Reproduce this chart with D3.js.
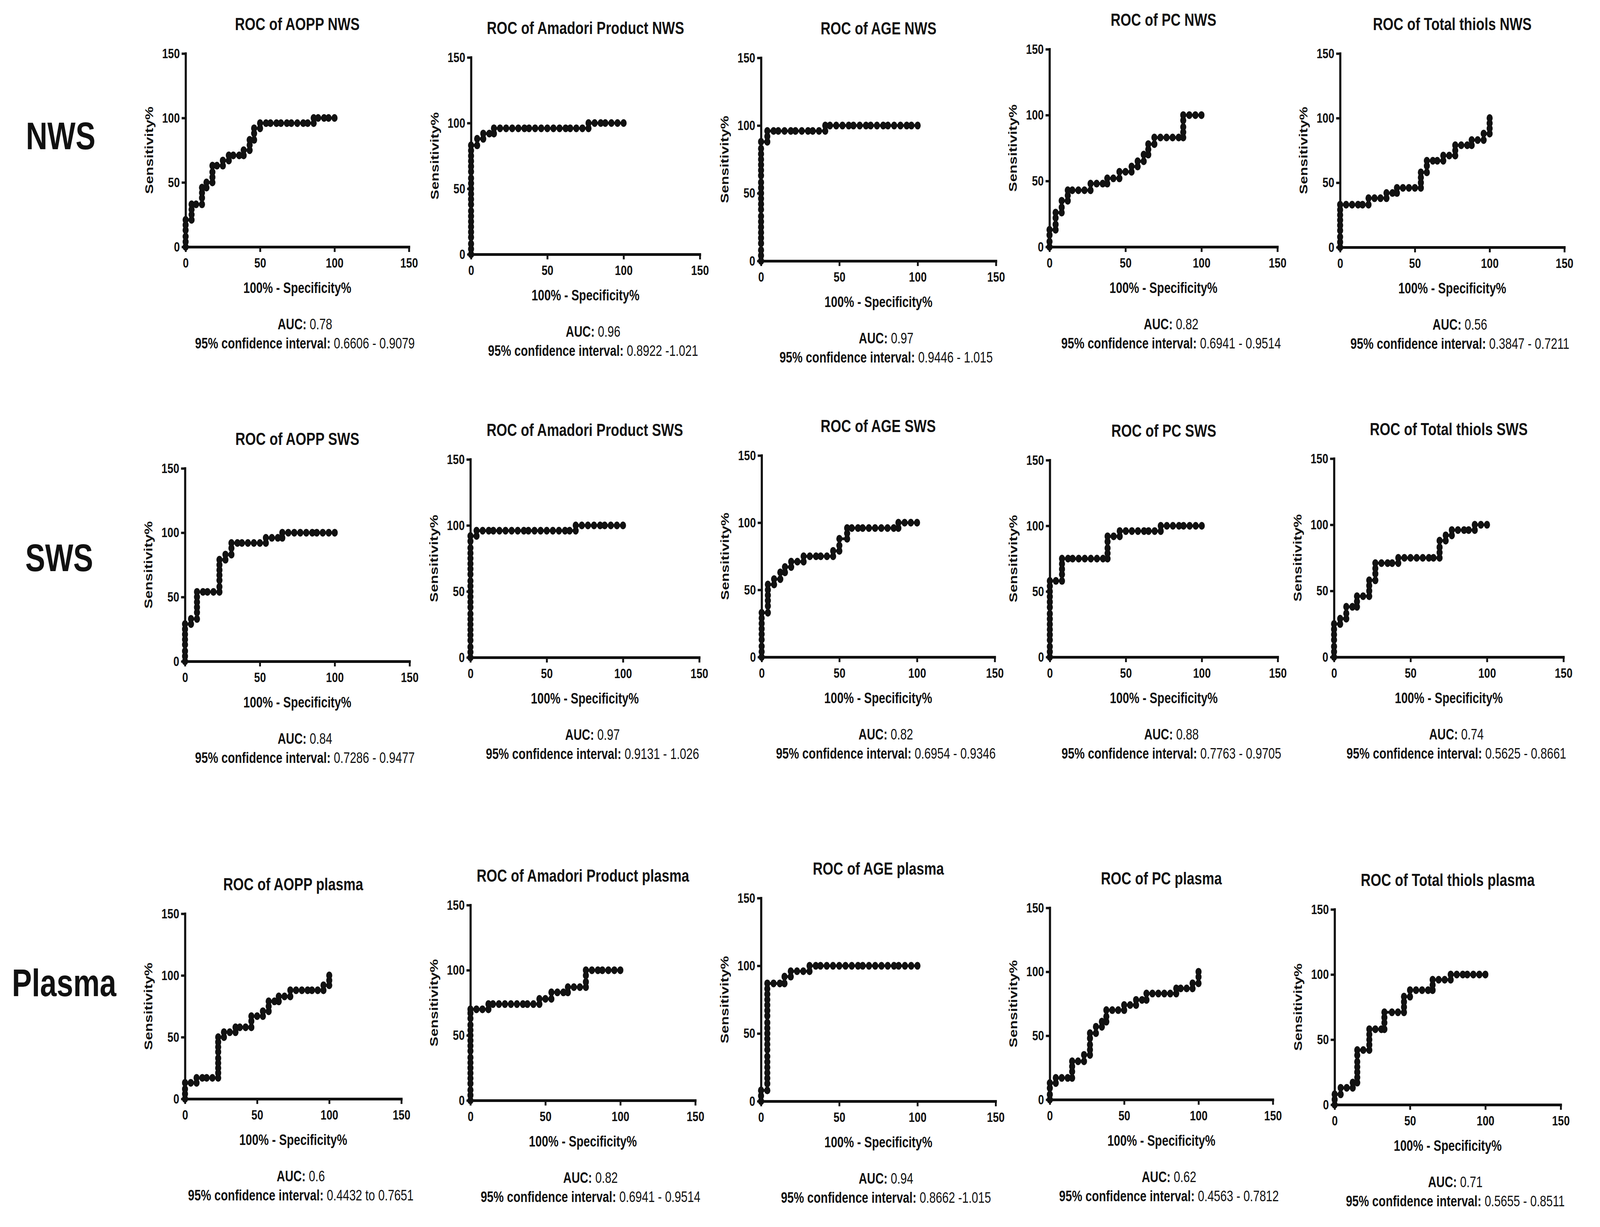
<!DOCTYPE html>
<html>
<head>
<meta charset="utf-8">
<script src="https://cdn.jsdelivr.net/npm/d3@7"></script>
<style>
  html, body, #chart { margin: 0; padding: 0; width: 100%; height: 100%; overflow: hidden; background: #fff; }
  svg { display: block; font-family: 'Liberation Sans', Arial, Helvetica, sans-serif; }
</style>
</head>
<body>
<div id="chart"></div>
<script>
// ---- data ----
const rowLabels = ['NWS', 'SWS', 'Plasma'];

const panelTitles = [
  'ROC of AOPP NWS', 'ROC of Amadori Product NWS', 'ROC of AGE NWS', 'ROC of PC NWS', 'ROC of Total thiols NWS',
  'ROC of AOPP SWS', 'ROC of Amadori Product SWS', 'ROC of AGE SWS', 'ROC of PC SWS', 'ROC of Total thiols SWS',
  'ROC of AOPP plasma', 'ROC of Amadori Product plasma', 'ROC of AGE plasma', 'ROC of PC plasma', 'ROC of Total thiols plasma',
];

const aucValues = [
  '0.78', '0.96', '0.97', '0.82', '0.56',
  '0.84', '0.97', '0.82', '0.88', '0.74',
  '0.6', '0.82', '0.94', '0.62', '0.71',
];

const ciValues = [
  '0.6606 - 0.9079', '0.8922 -1.021', '0.9446 - 1.015', '0.6941 - 0.9514', '0.3847 - 0.7211',
  '0.7286 - 0.9477', '0.9131 - 1.026', '0.6954 - 0.9346', '0.7763 - 0.9705', '0.5625 - 0.8661',
  '0.4432 to 0.7651', '0.6941 - 0.9514', '0.8662 -1.015', '0.4563 - 0.7812', '0.5655 - 0.8511',
];

const axisTicks = [0, 50, 100, 150];

// ROC points as [100% - Specificity%, Sensitivity%]
const rocAoppNws = [[0,0],[0,4],[0,8],[0,13],[0,17],[0,21],[4,21],[4,25],[4,29],[4,33],[7,33],[11,33],[11,38],[11,42],[11,46],[14,46],[14,50],[18,50],[18,54],[18,58],[18,63],[21,63],[25,63],[25,67],[29,67],[29,71],[32,71],[36,71],[39,71],[39,75],[43,75],[43,79],[43,83],[46,83],[46,88],[46,92],[50,92],[50,96],[54,96],[57,96],[61,96],[64,96],[68,96],[71,96],[75,96],[79,96],[82,96],[86,96],[86,100],[89,100],[93,100],[96,100],[100,100]];
const rocAmadoriNws = [[0,0],[0,4],[0,8],[0,13],[0,17],[0,21],[0,25],[0,29],[0,33],[0,38],[0,42],[0,46],[0,50],[0,54],[0,58],[0,63],[0,67],[0,71],[0,75],[0,79],[0,83],[4,83],[4,88],[8,88],[8,92],[12,92],[15,92],[15,96],[19,96],[23,96],[27,96],[31,96],[35,96],[38,96],[42,96],[46,96],[50,96],[54,96],[58,96],[62,96],[65,96],[69,96],[73,96],[77,96],[77,100],[81,100],[85,100],[88,100],[92,100],[96,100],[100,100]];
const rocAgeNws = [[0,0],[0,4],[0,8],[0,13],[0,17],[0,21],[0,25],[0,29],[0,33],[0,38],[0,42],[0,46],[0,50],[0,54],[0,58],[0,63],[0,67],[0,71],[0,75],[0,79],[0,83],[0,88],[4,88],[4,92],[4,96],[8,96],[11,96],[15,96],[19,96],[22,96],[26,96],[30,96],[33,96],[37,96],[41,96],[41,100],[44,100],[48,100],[52,100],[56,100],[59,100],[63,100],[67,100],[70,100],[74,100],[78,100],[81,100],[85,100],[89,100],[93,100],[96,100],[100,100]];
const rocPcNws = [[0,0],[0,4],[0,9],[0,13],[4,13],[4,17],[4,22],[4,26],[8,26],[8,30],[8,35],[12,35],[12,39],[12,43],[15,43],[19,43],[23,43],[27,43],[27,48],[31,48],[35,48],[38,48],[38,52],[42,52],[46,52],[46,57],[50,57],[54,57],[54,61],[58,61],[58,65],[62,65],[62,70],[65,70],[65,74],[65,78],[69,78],[69,83],[73,83],[77,83],[81,83],[85,83],[88,83],[88,87],[88,91],[88,96],[88,100],[92,100],[96,100],[100,100]];
const rocThiolsNws = [[0,0],[0,4],[0,8],[0,13],[0,17],[0,21],[0,25],[0,29],[0,33],[4,33],[8,33],[12,33],[15,33],[19,33],[19,38],[23,38],[27,38],[31,38],[31,42],[35,42],[38,42],[38,46],[42,46],[46,46],[50,46],[54,46],[54,50],[54,54],[54,58],[58,58],[58,63],[58,67],[62,67],[65,67],[69,67],[69,71],[73,71],[77,71],[77,75],[77,79],[81,79],[85,79],[88,79],[88,83],[92,83],[96,83],[96,88],[100,88],[100,92],[100,96],[100,100]];

const rocAoppSws = [[0,0],[0,4],[0,8],[0,13],[0,17],[0,21],[0,25],[0,29],[4,29],[4,33],[8,33],[8,38],[8,42],[8,46],[8,50],[8,54],[12,54],[15,54],[19,54],[23,54],[23,58],[23,63],[23,67],[23,71],[23,75],[23,79],[27,79],[27,83],[31,83],[31,88],[31,92],[35,92],[38,92],[42,92],[46,92],[50,92],[54,92],[54,96],[58,96],[62,96],[65,96],[65,100],[69,100],[73,100],[77,100],[81,100],[85,100],[88,100],[92,100],[96,100],[100,100]];
const rocAmadoriSws = [[0,0],[0,4],[0,8],[0,13],[0,17],[0,21],[0,25],[0,29],[0,33],[0,38],[0,42],[0,46],[0,50],[0,54],[0,58],[0,63],[0,67],[0,71],[0,75],[0,79],[0,83],[0,88],[0,92],[4,92],[4,96],[8,96],[12,96],[15,96],[19,96],[23,96],[27,96],[31,96],[35,96],[38,96],[42,96],[46,96],[50,96],[54,96],[58,96],[62,96],[65,96],[69,96],[69,100],[73,100],[77,100],[81,100],[85,100],[88,100],[92,100],[96,100],[100,100]];
const rocAgeSws = [[0,0],[0,4],[0,8],[0,13],[0,17],[0,21],[0,25],[0,29],[0,33],[4,33],[4,38],[4,42],[4,46],[4,50],[4,54],[8,54],[8,58],[12,58],[12,63],[15,63],[15,67],[19,67],[19,71],[23,71],[27,71],[27,75],[31,75],[35,75],[38,75],[42,75],[46,75],[46,79],[50,79],[50,83],[50,88],[55,88],[55,92],[55,96],[58,96],[62,96],[65,96],[69,96],[73,96],[77,96],[81,96],[85,96],[88,96],[88,100],[92,100],[96,100],[100,100]];
const rocPcSws = [[0,0],[0,4],[0,8],[0,13],[0,17],[0,21],[0,25],[0,29],[0,33],[0,38],[0,42],[0,46],[0,50],[0,54],[0,58],[4,58],[8,58],[8,63],[8,67],[8,71],[8,75],[12,75],[15,75],[19,75],[23,75],[27,75],[31,75],[35,75],[38,75],[38,79],[38,83],[38,88],[38,92],[42,92],[46,92],[46,96],[50,96],[54,96],[58,96],[62,96],[65,96],[69,96],[73,96],[73,100],[77,100],[81,100],[85,100],[88,100],[92,100],[96,100],[100,100]];
const rocThiolsSws = [[0,0],[0,4],[0,8],[0,13],[0,17],[0,21],[0,25],[4,25],[4,29],[8,29],[8,33],[8,38],[12,38],[15,38],[15,42],[15,46],[19,46],[23,46],[23,50],[23,54],[23,58],[27,58],[27,63],[27,67],[27,71],[31,71],[35,71],[38,71],[42,71],[42,75],[46,75],[50,75],[54,75],[58,75],[62,75],[65,75],[69,75],[69,79],[69,83],[69,88],[73,88],[73,92],[77,92],[77,96],[81,96],[85,96],[88,96],[92,96],[92,100],[96,100],[100,100]];

const rocAoppPlasma = [[0,0],[0,4],[0,8],[0,13],[4,13],[8,13],[8,17],[12,17],[15,17],[19,17],[23,17],[23,21],[23,25],[23,29],[23,33],[23,38],[23,42],[23,46],[23,50],[27,50],[27,54],[31,54],[35,54],[35,58],[38,58],[42,58],[46,58],[46,63],[46,67],[50,67],[54,67],[54,71],[58,71],[58,75],[58,79],[62,79],[65,79],[65,83],[69,83],[73,83],[73,88],[77,88],[81,88],[85,88],[88,88],[92,88],[96,88],[96,92],[100,92],[100,96],[100,100]];
const rocAmadoriPlasma = [[0,0],[0,4],[0,8],[0,13],[0,17],[0,21],[0,25],[0,29],[0,33],[0,38],[0,42],[0,46],[0,50],[0,54],[0,58],[0,63],[0,67],[0,70],[4,70],[8,70],[12,70],[12,74],[15,74],[19,74],[23,74],[27,74],[31,74],[35,74],[38,74],[42,74],[46,74],[46,78],[50,78],[54,78],[54,83],[58,83],[62,83],[65,83],[65,87],[69,87],[73,87],[77,87],[77,91],[77,96],[77,100],[81,100],[85,100],[88,100],[92,100],[96,100],[100,100]];
const rocAgePlasma = [[0,0],[0,4],[0,8],[4,8],[4,13],[4,17],[4,21],[4,25],[4,29],[4,33],[4,38],[4,42],[4,46],[4,50],[4,54],[4,58],[4,63],[4,67],[4,71],[4,75],[4,79],[4,83],[4,87],[8,87],[12,87],[15,87],[15,92],[19,92],[19,96],[23,96],[27,96],[31,96],[31,100],[35,100],[38,100],[42,100],[46,100],[50,100],[54,100],[58,100],[62,100],[65,100],[69,100],[73,100],[77,100],[81,100],[85,100],[88,100],[92,100],[96,100],[100,100]];
const rocPcPlasma = [[0,0],[0,4],[0,9],[0,13],[4,13],[4,17],[8,17],[12,17],[15,17],[15,22],[15,26],[15,30],[19,30],[23,30],[23,35],[27,35],[27,39],[27,43],[27,48],[27,52],[31,52],[31,57],[35,57],[35,61],[38,61],[38,65],[38,70],[42,70],[46,70],[50,70],[50,74],[54,74],[58,74],[58,78],[62,78],[65,78],[65,83],[69,83],[73,83],[77,83],[81,83],[85,83],[85,87],[88,87],[92,87],[96,87],[96,91],[100,91],[100,96],[100,100]];
const rocThiolsPlasma = [[0,0],[0,4],[0,8],[4,8],[4,13],[8,13],[12,13],[12,17],[15,17],[15,21],[15,25],[15,29],[15,33],[15,38],[15,42],[19,42],[23,42],[23,46],[23,50],[23,54],[23,58],[27,58],[31,58],[33,58],[33,63],[33,67],[33,71],[38,71],[42,71],[46,71],[46,75],[46,79],[46,83],[50,83],[50,88],[54,88],[58,88],[62,88],[65,88],[65,92],[65,96],[69,96],[73,96],[77,96],[77,100],[81,100],[85,100],[88,100],[92,100],[96,100],[100,100]];

const rocCurves = [
  rocAoppNws, rocAmadoriNws, rocAgeNws, rocPcNws, rocThiolsNws,
  rocAoppSws, rocAmadoriSws, rocAgeSws, rocPcSws, rocThiolsSws,
  rocAoppPlasma, rocAmadoriPlasma, rocAgePlasma, rocPcPlasma, rocThiolsPlasma,
];

// ---- layout (pixels): [x of 0, x of 150, y of 150, y of 0] ----
const panelBoxes = [
  [610, 1344, 137, 632], [1548, 2300, 147, 651], [2501, 3273, 148, 668], [3449, 4198, 126, 632], [4404, 5141, 137, 633],
  [608, 1346, 1199, 1693], [1546, 2298, 1176, 1683], [2503, 3269, 1166, 1682], [3450, 4199, 1178, 1682], [4384, 5138, 1174, 1682],
  [608, 1319, 2339, 2813], [1546, 2285, 2317, 2817], [2501, 3272, 2299, 2819], [3450, 4183, 2324, 2815], [4386, 5129, 2328, 2828],
];
const rowLabelPos = [[85, 382], [83, 1462], [39, 2550]];

const width = 5258;
const height = 3141;
const ink = '#111';

// the figure fills the whole window
const svg = d3.select('#chart')
  .append('svg')
  .attr('width', '100%')
  .attr('height', '100%')
  .attr('viewBox', `0 0 ${width} ${height}`)
  .attr('preserveAspectRatio', 'none');

svg.append('rect').attr('width', width).attr('height', height).attr('fill', '#fff');

// big row labels
svg.selectAll('text.row-label')
  .data(rowLabels)
  .enter()
  .append('text')
  .attr('class', 'row-label')
  .attr('x', (d, i) => rowLabelPos[i][0])
  .attr('y', (d, i) => rowLabelPos[i][1])
  .attr('font-size', 98)
  .attr('font-weight', 'bold')
  .attr('fill', ink)
  .text((d) => d);

const styleAxis = (g) => {
  g.attr('font-size', null).attr('font-family', null);
  g.select('.domain').attr('stroke', ink).attr('stroke-width', 7).attr('stroke-linecap', 'square');
  g.selectAll('.tick line').attr('stroke', ink).attr('stroke-width', 6);
  g.selectAll('.tick text')
    .attr('fill', ink)
    .attr('font-size', 35)
    .attr('font-weight', 'bold');
};

const drawRoc = (box, points, title, auc, ci) => {
  const [x0, x1, yTop, yBottom] = box;
  const x = d3.scaleLinear().domain([0, 150]).range([x0, x1]);
  const y = d3.scaleLinear().domain([0, 150]).range([yBottom, yTop]);
  const cx = (x0 + x1) / 2;
  const g = svg.append('g');

  // axes
  g.append('g')
    .attr('transform', `translate(0,${yBottom})`)
    .call(d3.axisBottom(x).tickValues(axisTicks).tickSize(13).tickSizeOuter(0).tickPadding(15))
    .call(styleAxis);

  g.append('g')
    .attr('transform', `translate(${x0},0)`)
    .call(d3.axisLeft(y).tickValues(axisTicks).tickSize(13).tickSizeOuter(0).tickPadding(6))
    .call(styleAxis);

  // curve + dots
  const line = d3.line().x((d) => x(d[0])).y((d) => y(d[1]));
  g.append('path')
    .datum(points)
    .attr('d', line)
    .attr('fill', 'none')
    .attr('stroke', ink)
    .attr('stroke-width', 7)
    .attr('stroke-linejoin', 'round');

  g.selectAll('circle')
    .data(points)
    .enter()
    .append('circle')
    .attr('cx', (d) => x(d[0]))
    .attr('cy', (d) => y(d[1]))
    .attr('r', 10)
    .attr('fill', ink);

  // texts
  g.append('text')
    .attr('x', cx)
    .attr('y', yTop - 60)
    .attr('text-anchor', 'middle')
    .attr('font-size', 45)
    .attr('font-weight', 'bold')
    .attr('fill', ink)
    .text(title);

  g.append('text')
    .attr('x', cx)
    .attr('y', yBottom + 118)
    .attr('text-anchor', 'middle')
    .attr('font-size', 38)
    .attr('font-weight', 'bold')
    .attr('fill', ink)
    .text('100% - Specificity%');

  g.append('text')
    .attr('transform', `translate(${x0 - 107},${(yTop + yBottom) / 2}) rotate(-90)`)
    .attr('text-anchor', 'middle')
    .attr('font-size', 38)
    .attr('font-weight', 'bold')
    .attr('fill', ink)
    .text('Sensitivity%');

  const aucText = g.append('text')
    .attr('x', cx + 25)
    .attr('y', yBottom + 211)
    .attr('text-anchor', 'middle')
    .attr('font-size', 38)
    .attr('fill', ink);
  aucText.append('tspan').attr('font-weight', 'bold').text('AUC:');
  aucText.append('tspan').text(` ${auc}`);

  const ciText = g.append('text')
    .attr('x', cx + 25)
    .attr('y', yBottom + 260)
    .attr('text-anchor', 'middle')
    .attr('font-size', 38)
    .attr('fill', ink);
  ciText.append('tspan').attr('font-weight', 'bold').text('95% confidence interval:');
  ciText.append('tspan').text(` ${ci}`);
};

rocCurves.forEach((points, i) => {
  drawRoc(panelBoxes[i], points, panelTitles[i], aucValues[i], ciValues[i]);
});
</script>
</body>
</html>
